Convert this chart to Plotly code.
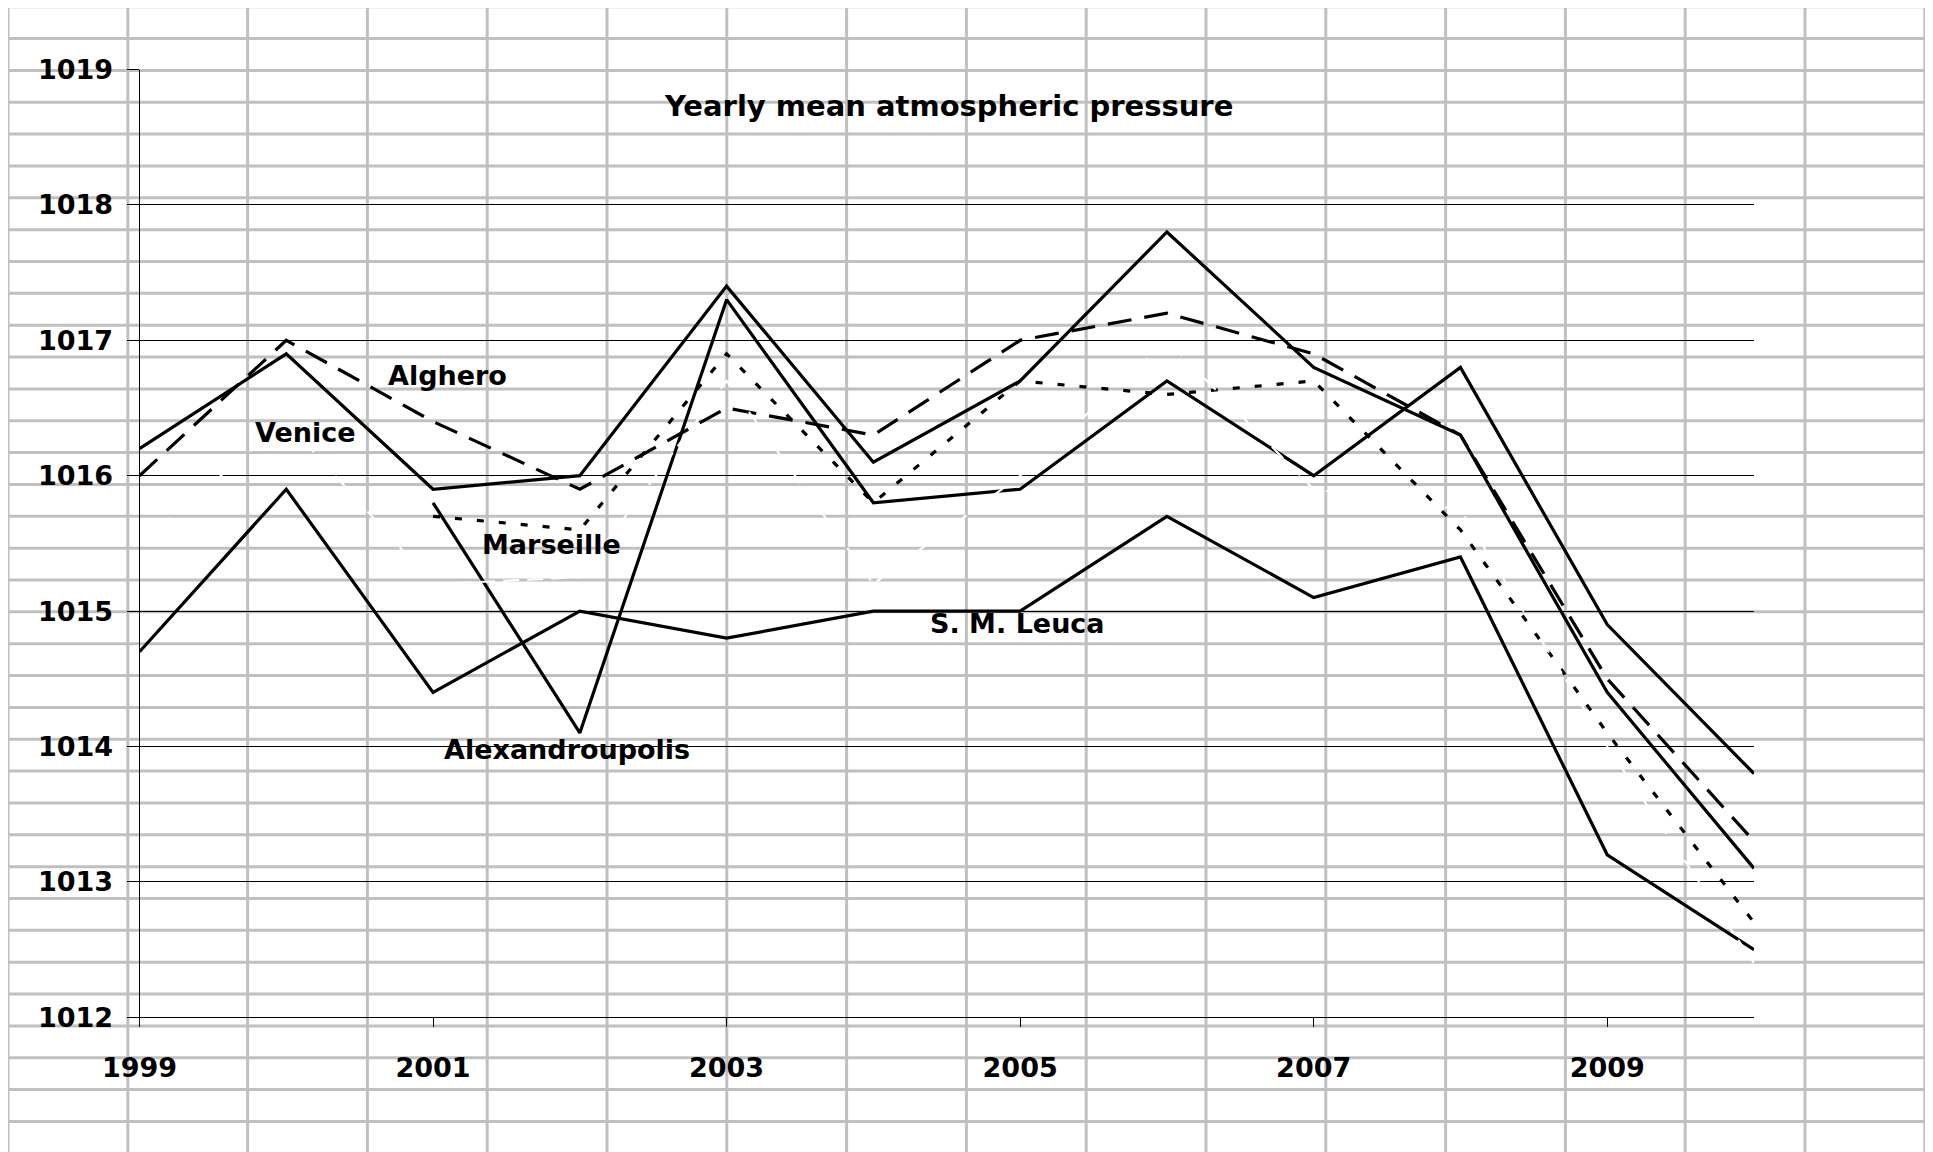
import plotly.graph_objects as go

# yearly mean atmospheric pressure (hPa), 1999-2010
years = list(range(1999, 2011))
venice = [1016.2, 1016.9, 1015.9, 1016.0, 1017.4, 1016.1, 1016.7, 1017.8, 1016.8, 1016.3, 1014.4, 1013.1]
alghero = [1016.0, 1017.0, 1016.4, 1015.9, 1016.5, 1016.3, 1017.0, 1017.2, 1016.9, 1016.3, 1014.5, 1013.3]
marseille = [None, None, 1015.7, 1015.6, 1016.9, 1015.8, 1016.7, 1016.6, 1016.7, 1015.6, 1014.1, 1012.7]
alexandroupolis = [None, None, 1015.8, 1014.1, 1017.3, 1015.8, 1015.9, 1016.7, 1016.0, 1016.8, 1014.9, 1013.8]
leuca = [1014.7, 1015.9, 1014.4, 1015.0, 1014.8, 1015.0, 1015.0, 1015.7, 1015.1, 1015.4, 1013.2, 1012.5]
# faint white series, only visible where it crosses the sheet grid
unlabelled = [1015.5, 1016.4, 1015.2, 1015.25, 1016.7, 1015.2, 1016.0, 1017.0, 1015.9, 1015.75, 1014.0, 1012.4]

x_ticks = [1999, 2001, 2003, 2005, 2007, 2009]
y_ticks = [1012, 1013, 1014, 1015, 1016, 1017, 1018, 1019]

W, H = 1933, 1152
OFF = 8  # page body margin
FONT = "DejaVu Sans"

def px_x(v):
    return (v - OFF) / W

def px_y(v):
    return 1 - (v - OFF) / H

fig = go.Figure()

def add_line(y, name, dash="solid", color="black", width=3.2):
    fig.add_trace(go.Scatter(x=years, y=y, name=name, mode="lines",
                             line=dict(color=color, width=width, dash=dash)))

add_line(leuca, "S. M. Leuca")
add_line(alexandroupolis, "Alexandroupolis")
add_line(venice, "Venice")
add_line(alghero, "Alghero", dash="24px,13px")
add_line(marseille, "Marseille", dash="7px,15px")
add_line(unlabelled, "unlabelled", dash="16px,8px", color="white", width=2)

# spreadsheet cells behind the chart
shapes = []
col_w, row_h = 119.8, 31.85
x0, y0 = 8, 6.7
k = 0
while x0 + k * col_w < W:
    p = x0 + k * col_w
    shapes.append(dict(type="line", xref="paper", yref="paper", layer="below",
                       x0=px_x(p), x1=px_x(p), y0=px_y(y0), y1=px_y(H + OFF),
                       line=dict(color="#c0c0c0", width=3)))
    k += 1
x_end = x0 + (k - 1) * col_w
k = 0
while y0 + k * row_h < H:
    p = y0 + k * row_h
    shapes.append(dict(type="line", xref="paper", yref="paper", layer="below",
                       x0=px_x(x0), x1=px_x(x_end), y0=px_y(p), y1=px_y(p),
                       line=dict(color="#c0c0c0", width=3)))
    k += 1

labels = [
    ("Yearly mean atmospheric pressure", 2004.51, 1018.73, 29),
    ("Alghero", 2001.10, 1016.74, 27),
    ("Venice", 2000.13, 1016.32, 27),
    ("Marseille", 2001.81, 1015.49, 27),
    ("Alexandroupolis", 2001.91, 1013.98, 27),
    ("S. M. Leuca", 2004.98, 1014.91, 27),
]
annotations = [dict(text=t, x=x, y=y, xref="x", yref="y", showarrow=False,
                    xanchor="center", yanchor="middle",
                    font=dict(family=FONT, size=s, color="black", weight="bold"))
               for t, x, y, s in labels]

fig.update_layout(
    template="none",
    width=W, height=H,
    margin=dict(l=0, r=0, t=0, b=0, autoexpand=False),
    paper_bgcolor="white", plot_bgcolor="rgba(0,0,0,0)",
    showlegend=False,
    shapes=shapes,
    annotations=annotations,
    xaxis=dict(domain=[px_x(139.5), px_x(1754)], range=[1999, 2010], automargin=False,
               tickvals=x_ticks, ticktext=[str(v) for v in x_ticks],
               showgrid=False, zeroline=False,
               showline=True, linecolor="black", linewidth=1,
               ticks="outside", ticklen=9, tickcolor="black", tickwidth=1,
               ticklabelstandoff=17,
               tickfont=dict(family=FONT, size=27, color="black", weight="bold")),
    yaxis=dict(domain=[px_y(1017.3), px_y(69.5)], range=[1012, 1019], automargin=False,
               tickvals=y_ticks,
               showgrid=True, gridcolor="black", gridwidth=1, zeroline=False,
               showline=True, linecolor="black", linewidth=1,
               ticks="outside", ticklen=12, tickcolor="black", tickwidth=1,
               ticklabelstandoff=8,
               tickfont=dict(family=FONT, size=27, color="black", weight="bold")),
)

fig.write_html("out.html")
